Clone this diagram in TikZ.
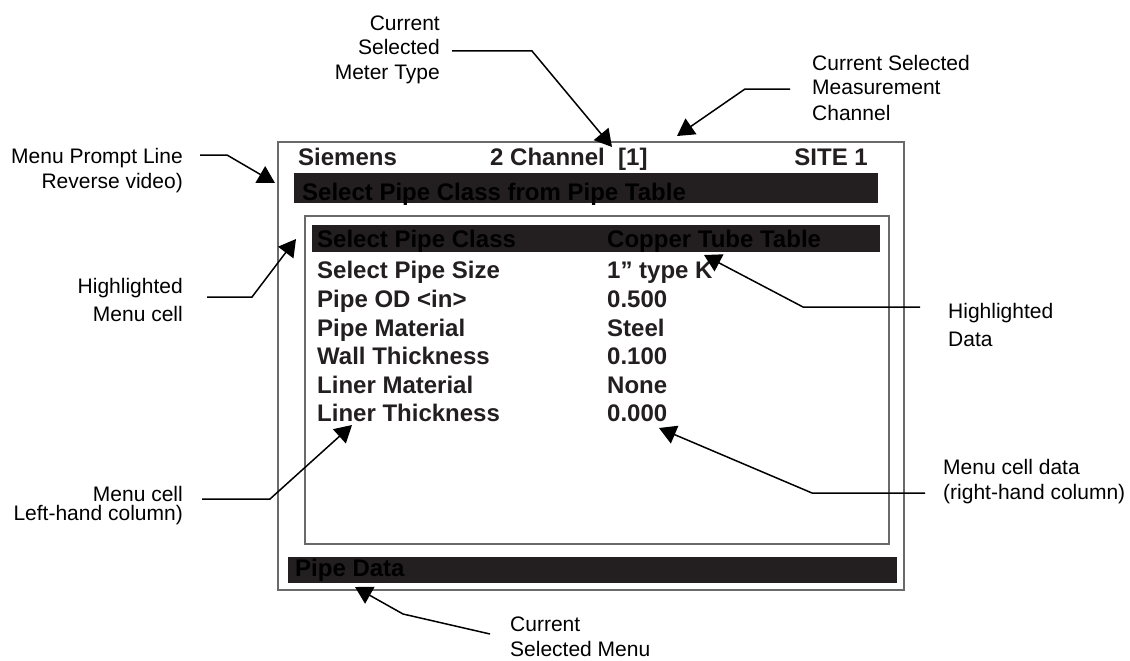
\documentclass[tikz,border=0pt]{standalone}
\usepackage{fontspec}
\setmainfont{Liberation Sans}
\usetikzlibrary{positioning, arrows.meta}

\definecolor{lcdink}{HTML}{231F20}
\definecolor{framegray}{HTML}{6A6A6A}

\begin{document}
\begin{tikzpicture}[
    x=1pt, y=-1pt,
    lcd/.style={
        inner sep=0pt, anchor=base west,
        text=lcdink,
        font=\fontsize{24}{28}\selectfont\bfseries
    },
    onbar/.style={lcd, text=black},
    bar/.style={fill=lcdink, draw=none},
    frame/.style={draw=framegray, line width=1.3pt},
    callout/.style={
        inner sep=0pt, text=black,
        font=\fontsize{21}{25}\selectfont
    },
    leader/.style={-{Triangle[length=17pt, width=19pt]}, line width=1.5pt, draw=black}
]
\useasboundingbox (0,0) rectangle (1130,661);

% ============ Display frame ============
\draw[frame] (278,142) rectangle (904,590);
\draw[frame] (305,216) rectangle (889,544);

% ============ Header line ============
\node[lcd] (siemens) at (298,165) {Siemens};
\node[lcd] (metertype) at (490,165) {2 Channel\ \ [1]};
\node[lcd, anchor=base east] (site) at (868,165) {SITE 1};

% ============ Prompt line (reverse video) ============
\fill[bar] (294,173) rectangle (878,203);
\node[onbar] (prompt) at (302,200) {Select Pipe Class from Pipe Table};

% ============ Menu cells ============
\fill[bar] (312,225) rectangle (880,252);
\node[onbar] (classname) at (317,247) {Select Pipe Class};
\node[onbar] (classval) at (607,247) {Copper Tube Table};

\node[lcd] (sizename) at (317,278) {Select Pipe Size};
\node[lcd] (sizeval) at (607,278) {1” type K};
\node[lcd] (odname) at (317,307) {Pipe OD <in>};
\node[lcd] (odval) at (607,307) {0.500};
\node[lcd] (matname) at (317,336) {Pipe Material};
\node[lcd] (matval) at (607,336) {Steel};
\node[lcd] (wallname) at (317,364) {Wall Thickness};
\node[lcd] (wallval) at (607,364) {0.100};
\node[lcd] (linername) at (317,393) {Liner Material};
\node[lcd] (linerval) at (607,393) {None};
\node[lcd] (thickname) at (317,421) {Liner Thickness};
\node[lcd] (thickval) at (607,421) {0.000};

% ============ Menu name ============
\fill[bar] (288,557) rectangle (897,583);
\node[onbar] (menuname) at (295,576) {Pipe Data};

% ============ Callout texts ============
\node[callout, align=right, anchor=base east] (lblmeter) at (440,80) {Current\\Selected\\Meter Type};
\node[callout, align=left, anchor=base west] (lblchannel) at (812,120) {Current Selected\\Measurement\\Channel};
\node[callout, align=right, anchor=base east] (lblprompt) at (183,188) {Menu Prompt Line\\Reverse video)};
\node[callout, align=right, anchor=base east] (lblcell) at (183,321) {Highlighted\\[3pt]Menu cell};
\node[callout, align=right, anchor=base east] (lblleft) at (183,520) {Menu cell\\[-6pt]Left-hand column)};
\node[callout, align=left, anchor=base west] (lbldata) at (948,346) {Highlighted\\[3pt]Data};
\node[callout, align=left, anchor=base west] (lblright) at (943,499) {Menu cell data\\(right-hand column)};
\node[callout, align=left, anchor=base west] (lblmenu) at (510,656) {Current\\Selected Menu};

% ============ Leader points ============
\coordinate (meterfrom) at (452,51);   \coordinate (meterbend) at (532,51);   \coordinate (metertip) at (612,147);
\coordinate (chanfrom) at (790,89);    \coordinate (chanbend) at (745,89);    \coordinate (chantip) at (677,136);
\coordinate (promptfrom) at (200,155); \coordinate (promptbend) at (227,155); \coordinate (prompttip) at (275,183);
\coordinate (cellfrom) at (207,297);   \coordinate (cellbend) at (252,297);   \coordinate (celltip) at (296,239);
\coordinate (leftfrom) at (202,499);   \coordinate (leftbend) at (270,499);   \coordinate (lefttip) at (352,425);
\coordinate (datafrom) at (920,307);   \coordinate (databend) at (803,307);   \coordinate (datatip) at (704,255);
\coordinate (rightfrom) at (925,493);  \coordinate (rightbend) at (812,493);  \coordinate (righttip) at (659,428);
\coordinate (menufrom) at (490,634);   \coordinate (menubend) at (403,614);   \coordinate (menutip) at (355,587);

% ============ Leaders ============
\draw[leader] (meterfrom) -- (meterbend) -- (metertip);
\draw[leader] (chanfrom) -- (chanbend) -- (chantip);
\draw[leader] (promptfrom) -- (promptbend) -- (prompttip);
\draw[leader] (cellfrom) -- (cellbend) -- (celltip);
\draw[leader] (leftfrom) -- (leftbend) -- (lefttip);
\draw[leader] (datafrom) -- (databend) -- (datatip);
\draw[leader] (rightfrom) -- (rightbend) -- (righttip);
\draw[leader] (menufrom) -- (menubend) -- (menutip);

\end{tikzpicture}
\end{document}
